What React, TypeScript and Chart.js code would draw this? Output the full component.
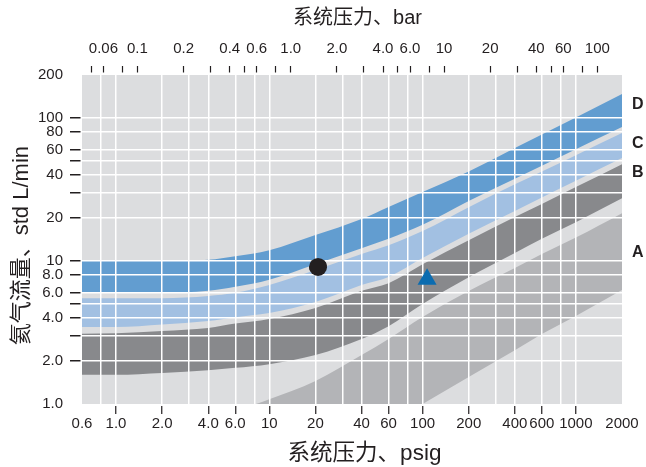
import React, { useEffect, useRef } from 'react';
import { Chart, registerables } from 'chart.js';

Chart.register(...registerables);

// ---------- data ----------
const PSIG = [0.6, 1, 2, 4, 6, 10, 20, 40, 60, 100, 200, 400, 600, 1000, 2000];
const D_TOP = [10, 10, 10, 10.2, 10.8, 11.9, 15.2, 19.7, 23.9, 30.4, 42.3, 61.7, 76.7, 101, 147];
const D_BOTTOM = [6.0, 6.0, 6.0, 6.2, 6.6, 7.4, 9.5, 12.3, 14.3, 17.9, 26.3, 37.6, 46.4, 60.5, 86.5];
const C_TOP = [5.5, 5.5, 5.5, 5.7, 6.0, 6.8, 8.65, 11.2, 12.9, 16.2, 23.8, 34.4, 42.3, 55.0, 78.5];
const C_BOTTOM = [3.45, 3.45, 3.6, 3.8, 4.05, 4.33, 5.17, 6.8, 7.74, 10.5, 15.5, 22.4, 27.8, 36.4, 52.5];
const B_TOP = [3.1, 3.12, 3.24, 3.4, 3.65, 3.93, 4.7, 6.2, 7.0, 9.5, 14.0, 20.3, 25.0, 32.9, 47.5];
const B_BOTTOM = [1.6, 1.6, 1.65, 1.72, 1.79, 1.9, 2.2, 2.85, 3.5, 5.0, 7.7, 11.4, 14.3, 18.7, 27.5];
const PSIG_A = [8.2, 10, 20, 40, 60, 100, 200, 400, 600, 1000, 2000];
const A_TOP = [1.0, 1.08, 1.45, 2.2, 2.85, 4.06, 6.17, 8.93, 11.2, 14.6, 21.6];
const A_BOTTOM = [1, 1, 1, 1, 1, 1, 1.545, 2.38, 3.09, 4.13, 6.27];

const CIRCLE_POINT = { x: 20.8, y: 9.1 };
const TRIANGLE_POINT = { x: 107, y: 7.45 };

const BAND_LETTERS = ['D', 'C', 'B', 'A'];
const BAND_LETTER_AT = [125, 66.8, 41.6, 11.5];

// axes
const X_MIN = 0.6;
const X_MAX = 2000;
const BAR_PER_PSIG = 13.8; // as drawn in the reference
const Y_MIN = 1;
const Y_MAX = 200;

const X_TICKS = [0.6, 0.8, 1, 2, 3, 4, 6, 8, 10, 20, 30, 40, 60, 80, 100, 200, 300, 400, 600, 800, 1000, 2000];
const X_GRID = [0.8, 1, 2, 3, 4, 6, 8, 10, 20, 30, 40, 60, 80, 100, 200, 300, 400, 600, 800, 1000];
const X_TICK_MARKS = [1, 2, 4, 6, 10, 20, 40, 60, 100, 200, 400, 600, 1000];
const X_LABELS: Record<string, string> = {
  '0.6': '0.6', '1': '1.0', '2': '2.0', '4': '4.0', '6': '6.0', '10': '10', '20': '20', '40': '40',
  '60': '60', '100': '100', '200': '200', '400': '400', '600': '600', '1000': '1000', '2000': '2000',
};

const BAR_TICKS = [0.05, 0.06, 0.08, 0.1, 0.2, 0.3, 0.4, 0.5, 0.6, 0.8, 1, 2, 3, 4, 5, 6, 8, 10, 20, 30, 40, 50, 60, 80, 100];
const BAR_LABELS: Record<string, string> = {
  '0.06': '0.06', '0.1': '0.1', '0.2': '0.2', '0.4': '0.4', '0.6': '0.6', '1': '1.0', '2': '2.0',
  '4': '4.0', '6': '6.0', '10': '10', '20': '20', '40': '40', '60': '60', '100': '100',
};

const Y_TICKS = [1, 2, 3, 4, 5, 6, 8, 10, 20, 30, 40, 50, 60, 80, 100, 200];
const Y_GRID = [2, 3, 4, 5, 6, 8, 10, 20, 30, 40, 50, 60, 80, 100];
const Y_LABELS: Record<string, string> = {
  '1': '1.0', '2': '2.0', '4': '4.0', '6': '6.0', '8': '8.0', '10': '10', '20': '20', '40': '40',
  '60': '60', '80': '80', '100': '100', '200': '200',
};

const TITLE_BOTTOM = '\u00a0\u00a0\u00a0\u00a0系统压力、psig';
const TITLE_TOP = '\u00a0\u00a0系统压力、bar';
const TITLE_LEFT = '氦气流量、std L/min\u00a0\u00a0';

// ---------- style ----------
const FONT = "'Liberation Sans', 'Noto Sans CJK SC', Arial, sans-serif";
const TEXT = '#231f20';
const BG = '#dcdddf';
const GRID = '#ffffff';
const NONE = 'rgba(0,0,0,0)';
const COLOR_D = '#629dd0';
const COLOR_C = '#a2c0e2';
const COLOR_B = '#88898c';
const COLOR_A = '#b3b4b7';

const pts = (xs: number[], ys: number[]) => xs.map((x, i) => ({ x, y: ys[i] }));

const band = (xs: number[], ys: number[], color: string, fillNext: boolean, smooth = true) => ({
  data: pts(xs, ys),
  borderWidth: 0,
  pointRadius: 0,
  backgroundColor: color,
  borderColor: color,
  fill: fillNext ? '+1' : false,
  cubicInterpolationMode: smooth ? 'monotone' : 'default',
  tension: 0,
});

const plotBg = {
  id: 'plotBg',
  beforeDraw(chart: any) {
    const { ctx, chartArea: a } = chart;
    ctx.save();
    ctx.fillStyle = BG;
    ctx.fillRect(a.left, a.top, a.right - a.left, a.bottom - a.top);
    ctx.restore();
  },
};

const markersOnTop = {
  id: 'markersOnTop',
  afterDraw(chart: any) {
    chart.data.datasets.forEach((ds: any, i: number) => {
      if (ds.onTop) chart.getDatasetMeta(i).controller.draw();
    });
  },
};

const has = (arr: number[]) => (c: any) => !!(c && c.tick && arr.includes(c.tick.value));

export default function App() {
  const ref = useRef<HTMLCanvasElement | null>(null);

  useEffect(() => {
    if (!ref.current) return;
    const chart = new Chart(ref.current, {
      type: 'line',
      data: {
        datasets: [
          band(PSIG, D_TOP, COLOR_D, true),
          band(PSIG, D_BOTTOM, COLOR_D, false),
          band(PSIG, C_TOP, COLOR_C, true),
          band(PSIG, C_BOTTOM, COLOR_C, false),
          band(PSIG, B_TOP, COLOR_B, true),
          band(PSIG, B_BOTTOM, COLOR_B, false),
          band(PSIG_A, A_TOP, COLOR_A, true),
          band(PSIG_A, A_BOTTOM, COLOR_A, false, false),
          {
            data: [CIRCLE_POINT],
            showLine: false,
            pointStyle: 'circle',
            pointRadius: 9,
            pointBackgroundColor: '#231f20',
            pointBorderWidth: 0,
            fill: false,
            onTop: true,
          } as any,
          {
            data: [TRIANGLE_POINT],
            showLine: false,
            pointStyle: 'triangle',
            pointRadius: 11,
            pointBackgroundColor: '#0b6cb0',
            pointBorderWidth: 0,
            fill: false,
            onTop: true,
          } as any,
        ] as any,
      },
      options: {
        responsive: false,
        devicePixelRatio: 1,
        animation: false,
        events: [],
        layout: { padding: 0 },
        plugins: { legend: { display: false }, tooltip: { enabled: false } },
        scales: {
          x: {
            type: 'logarithmic',
            position: 'bottom',
            min: X_MIN,
            max: X_MAX,
            afterBuildTicks: (s: any) => { s.ticks = X_TICKS.map((v) => ({ value: v })); },
            afterFit: (s: any) => { s.height = 63; },
            ticks: {
              autoSkip: false, maxRotation: 0, minRotation: 0, padding: 1, color: TEXT,
              font: { family: FONT, size: 15 },
              callback: (v: any) => X_LABELS[String(v)] ?? '',
            },
            grid: {
              z: 1,
              color: (c: any) => (has(X_GRID)(c) ? GRID : NONE),
              lineWidth: 1.5,
              tickColor: (c: any) => (has(X_TICK_MARKS)(c) ? TEXT : NONE),
              tickLength: 10,
              tickWidth: 1.2,
              tickBorderDash: [0, 2, 8, 40],
            },
            border: { display: false },
            title: {
              display: true, text: TITLE_BOTTOM, color: TEXT,
              font: { family: FONT, size: 22.5 }, padding: { top: 0, bottom: 0 },
            },
          } as any,
          x2: {
            type: 'logarithmic',
            position: 'top',
            min: X_MIN / BAR_PER_PSIG,
            max: X_MAX / BAR_PER_PSIG,
            afterBuildTicks: (s: any) => { s.ticks = BAR_TICKS.map((v) => ({ value: v })); },
            afterFit: (s: any) => { s.height = 75; },
            ticks: {
              autoSkip: false, maxRotation: 0, minRotation: 0, padding: 8, color: TEXT,
              font: { family: FONT, size: 15 },
              callback: (v: any) => BAR_LABELS[String(v)] ?? '',
            },
            grid: {
              drawOnChartArea: false,
              color: NONE,
              tickColor: TEXT,
              tickLength: 9,
              tickWidth: 1.2,
              tickBorderDash: [6.5, 40],
            },
            border: { display: false },
            title: {
              display: true, text: TITLE_TOP, color: TEXT,
              font: { family: FONT, size: 20 }, padding: { top: 6, bottom: 0 },
            },
          } as any,
          y: {
            type: 'logarithmic',
            position: 'left',
            min: Y_MIN,
            max: Y_MAX,
            afterBuildTicks: (s: any) => { s.ticks = Y_TICKS.map((v) => ({ value: v })); },
            afterFit: (s: any) => { s.width = 82; },
            ticks: {
              autoSkip: false, padding: 7, color: TEXT,
              font: { family: FONT, size: 15 },
              callback: (v: any) => Y_LABELS[String(v)] ?? '',
            },
            grid: {
              z: 1,
              color: (c: any) => (has(Y_GRID)(c) ? GRID : NONE),
              lineWidth: 1.5,
              tickColor: (c: any) => (has(Y_GRID)(c) ? TEXT : NONE),
              tickLength: 12,
              tickWidth: 1.5,
              tickBorderDash: [10.5, 40],
            },
            border: { display: false },
            title: {
              display: true, text: TITLE_LEFT, color: TEXT,
              font: { family: FONT, size: 22 }, padding: { top: 9, bottom: 0 },
            },
          } as any,
          y2: {
            type: 'logarithmic',
            position: 'right',
            min: Y_MIN,
            max: Y_MAX,
            afterBuildTicks: (s: any) => { s.ticks = BAND_LETTER_AT.map((v) => ({ value: v })); },
            afterFit: (s: any) => { s.width = 24; },
            ticks: {
              autoSkip: false, padding: 10, color: TEXT,
              font: { family: FONT, size: 16, weight: 'bold' },
              callback: (v: any) => {
                const i = BAND_LETTER_AT.indexOf(v);
                return i >= 0 ? BAND_LETTERS[i] : '';
              },
            },
            grid: { display: false, drawTicks: false, tickLength: 0 },
            border: { display: false },
          } as any,
        },
      },
      plugins: [plotBg, markersOnTop],
    } as any);
    return () => chart.destroy();
  }, []);

  return (
    <div style={{ position: 'absolute', left: 0, top: 0, width: 646, height: 467 }}>
      <canvas ref={ref} width={646} height={467} style={{ display: 'block', width: 646, height: 467 }} />
    </div>
  );
}
